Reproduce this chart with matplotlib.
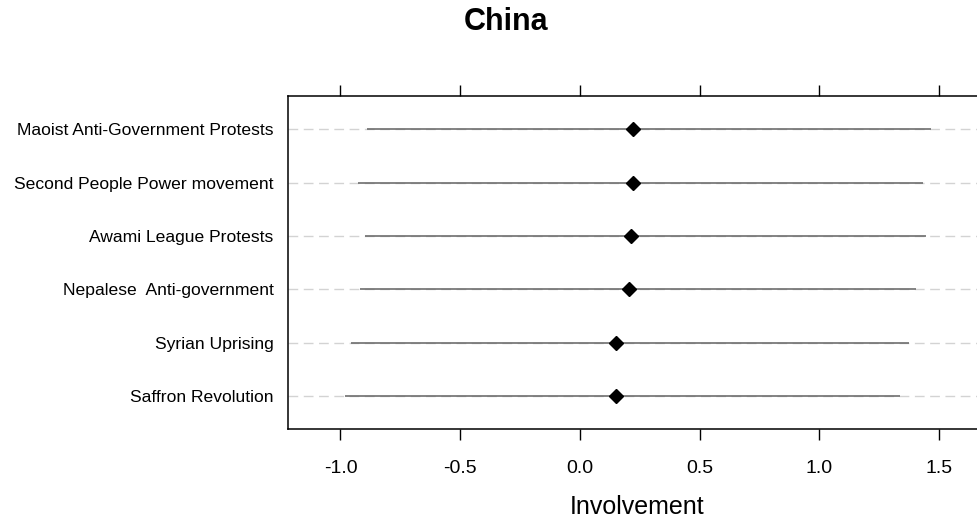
import matplotlib
matplotlib.use('Agg')
from matplotlib import pyplot as plt

plt.rcParams['font.family'] = ['Liberation Sans', 'DejaVu Sans']

# rows listed bottom to top
movements = ['Saffron Revolution', 'Syrian Uprising', 'Nepalese  Anti-government',
             'Awami League Protests', 'Second People Power movement',
             'Maoist Anti-Government Protests']
estimate = [0.151, 0.150, 0.206, 0.213, 0.221, 0.223]
lower = [-0.981, -0.957, -0.919, -0.898, -0.926, -0.888]
upper = [1.337, 1.375, 1.403, 1.443, 1.431, 1.464]

fig = plt.figure(figsize=(9.77, 5.22), dpi=100)
ax = fig.add_axes([0.2943, 0.178, 0.716, 0.638])

ypos = list(range(1, len(movements) + 1))

# light dashed guide lines across the panel
for y in ypos:
    ax.axhline(y, color='#d3d3d3', lw=1, dashes=(7, 4), zorder=1)

ax.hlines(ypos, lower, upper, color='#6e6e6e', lw=1.2, zorder=2)
ax.plot(estimate, ypos, 'D', color='black', markersize=7, zorder=3)

ax.set_xlim(-1.221, 1.70)
ax.set_ylim(0.38, 6.62)
ax.set_xticks([-1.0, -0.5, 0.0, 0.5, 1.0, 1.5])
ax.set_xticklabels(['-1.0', '-0.5', '0.0', '0.5', '1.0', '1.5'])
ax.set_yticks(ypos)
ax.set_yticklabels(movements, fontsize=12.6)

ax.tick_params(axis='x', direction='out', length=8, width=1, top=True,
               labeltop=False, labelsize=14, pad=14, color='black')
ax.tick_params(axis='y', length=0, pad=10)
for s in ax.spines.values():
    s.set_linewidth(1.1)

ax.set_xlabel('Involvement', fontsize=18, labelpad=13.5)
fig.text(506 / 977, 1 - 22 / 522, 'China', fontsize=22, fontweight='bold',
         ha='center', va='center')

fig.savefig('out.png', dpi=100)
